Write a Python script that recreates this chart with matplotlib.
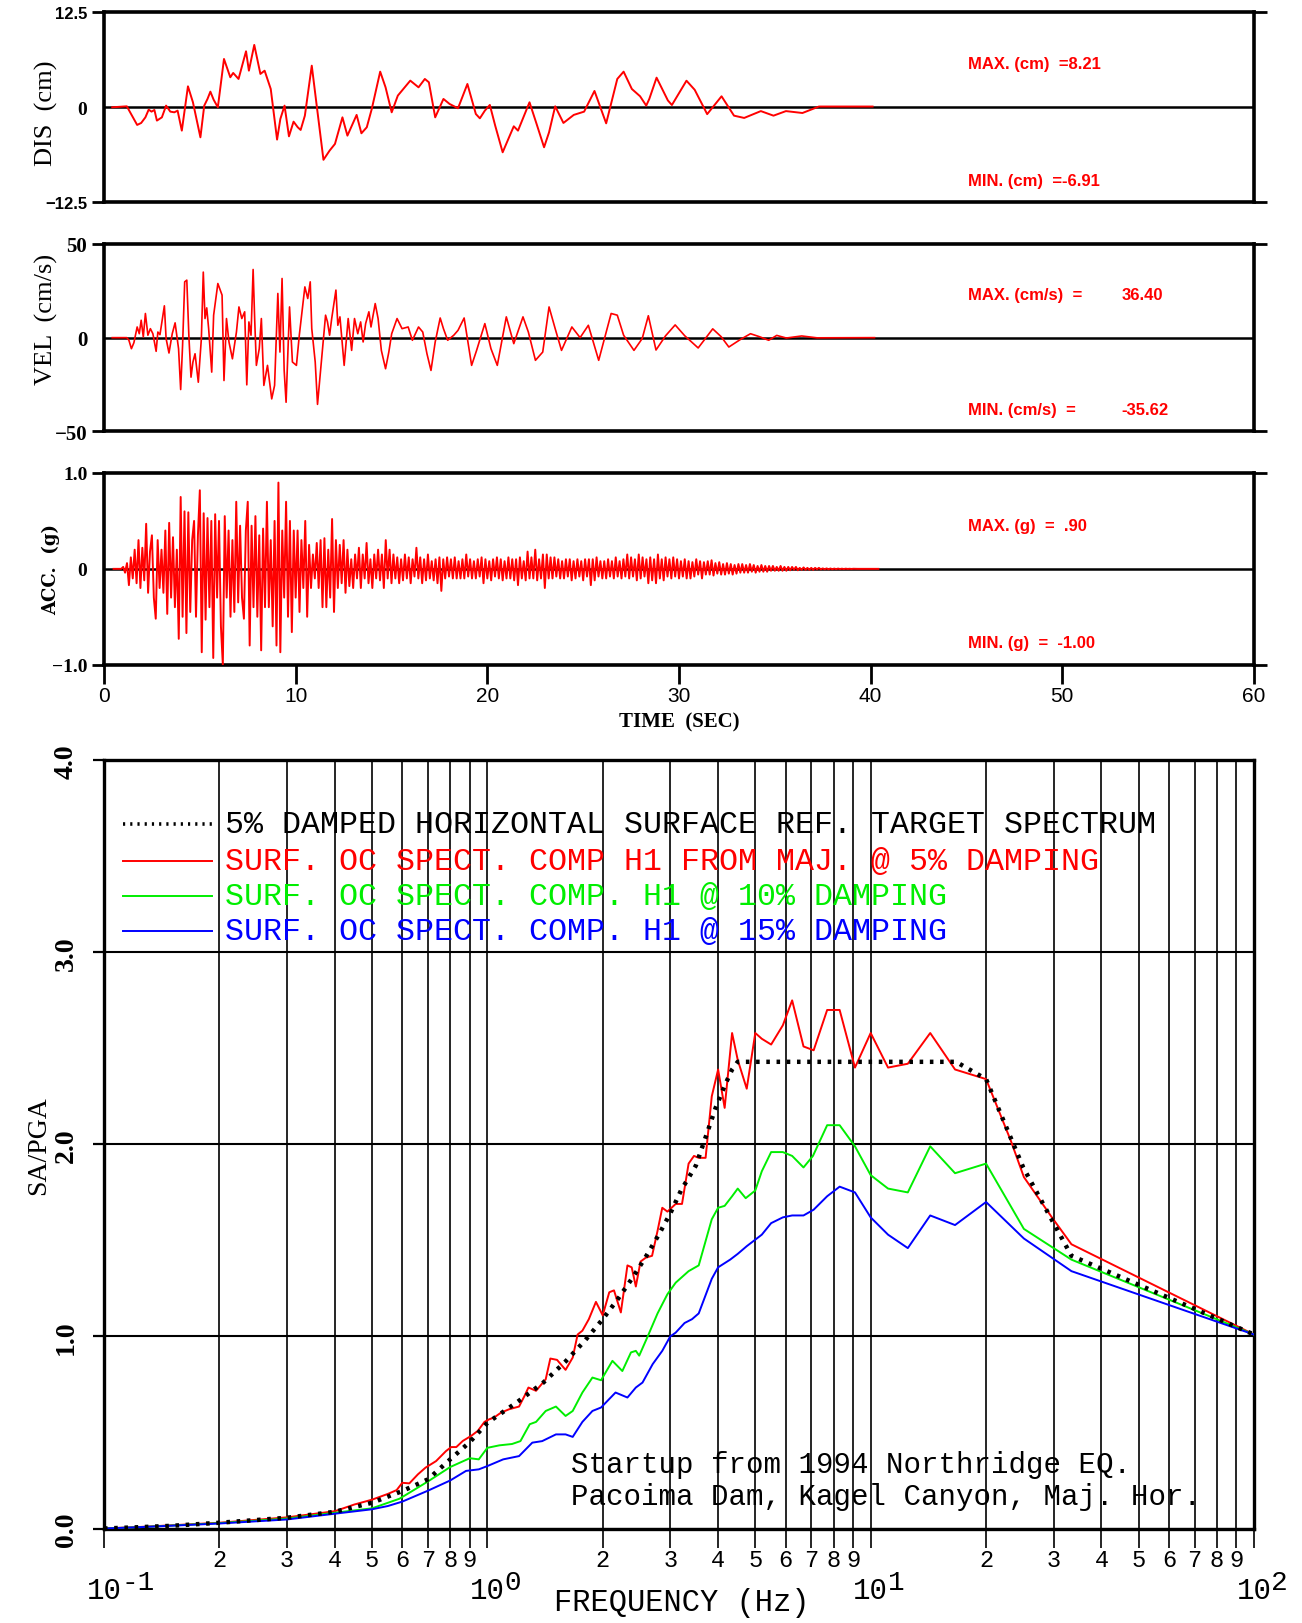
import numpy as np
import matplotlib
matplotlib.use('Agg')
import matplotlib.pyplot as plt
import matplotlib.transforms as mtransforms

SERIF = ['Liberation Serif', 'DejaVu Serif']
WIDE_SERIF = ['DejaVu Serif']
MONO = ['Liberation Mono', 'DejaVu Sans Mono']
NARROW = ['Liberation Sans Narrow', 'Liberation Sans', 'DejaVu Sans']
SANS = ['Liberation Sans', 'DejaVu Sans']

# ---------------- time histories ----------------
dis_t = [0.43, 1.19, 1.73, 1.94, 2.16, 2.33, 2.48, 2.63, 2.76, 3.02, 3.24, 3.46, 3.67, 3.84,
         4.06, 4.38, 4.64, 5.03, 5.23, 5.40, 5.55, 5.72, 5.94, 6.26, 6.44, 6.59, 6.74, 7.02,
         7.41, 7.56, 7.84, 8.16, 8.38, 8.70, 9.03, 9.20, 9.42, 9.65, 9.89, 10.11, 10.26, 10.48,
         10.84, 11.12, 11.45, 11.77, 12.05, 12.27, 12.44, 12.70, 13.18, 13.43, 13.71, 13.97,
         14.41, 14.69, 15.01, 15.33, 15.98, 16.41, 16.74, 16.95, 17.28, 17.71, 18.03, 18.47,
         18.96, 19.40, 19.61, 19.87, 20.13, 20.41, 20.80, 21.17, 21.38, 21.60, 22.20, 22.57,
         22.96, 23.22, 23.54, 23.97, 24.51, 25.05, 25.59, 26.20, 26.78, 27.11, 27.54, 27.97,
         28.29, 28.45, 28.83, 29.42, 29.63, 30.39, 30.82, 31.47, 32.22, 32.87, 33.40, 34.27,
         34.93, 35.58, 36.44, 37.30, 40.10]
dis_cm = [0.0, 0.13, -2.32, -2.06, -1.32, -0.31, -0.57, -0.35, -1.75, -1.32, 0.22, -0.57, -0.66, -0.44,
          -3.07, 2.76, 0.66, -3.95, 0.22, 1.10, 2.06, 1.00, 0.0, 6.36, 5.04, 3.95, 4.52, 3.73,
          7.37, 4.82, 8.21, 4.39, 4.82, 2.41, -4.25, -1.54, 0.22, -3.82, -1.89, -2.63, -2.98, -1.10,
          5.48, -0.22, -6.91, -5.70, -4.82, -2.85, -1.32, -3.73, -1.00, -3.42, -2.63, -0.22,
          4.69, 2.63, -0.66, 1.54, 3.51, 2.63, 3.73, 3.29, -1.32, 1.10, 0.44, -0.13,
          3.07, -0.88, -1.45, -0.44, 0.31, -2.41, -5.92, -3.73, -2.50, -3.07, 0.66, -2.19,
          -5.26, -3.29, 0.13, -2.06, -1.00, -0.57, 2.15, -2.11, 3.73, 4.69, 2.41, 1.45,
          0.22, 1.10, 3.90, 0.90, 0.30, 3.50, 2.30, -0.90, 1.45, -1.10, -1.40, -0.50,
          -1.10, -0.50, -0.75, 0.10, 0.10]

vel_t = [0.43, 1.08, 1.19, 1.30, 1.43, 1.56, 1.73, 1.84, 1.94, 2.05, 2.16, 2.29, 2.42, 2.55, 2.72,
         2.81, 2.92, 3.15, 3.24, 3.39, 3.56, 3.71, 3.89, 4.00, 4.10, 4.21, 4.32, 4.43, 4.54, 4.64,
         4.75, 4.92, 5.08, 5.18, 5.27, 5.36, 5.46, 5.62, 5.72, 5.94, 6.16, 6.26, 6.39, 6.52, 6.70,
         6.91, 7.04, 7.19, 7.34, 7.45, 7.56, 7.67, 7.78, 7.86, 7.95, 8.10, 8.21, 8.34, 8.53, 8.75,
         8.90, 9.07, 9.18, 9.29, 9.40, 9.50, 9.68, 9.83, 10.04, 10.19, 10.48, 10.63, 10.76, 10.84,
         11.02, 11.14, 11.34, 11.56, 11.66, 11.77, 11.88, 12.10, 12.20, 12.31, 12.53, 12.74, 12.92,
         13.07, 13.24, 13.39, 13.52, 13.65, 13.82, 13.93, 14.15, 14.30, 14.47, 14.69, 14.86, 15.01,
         15.29, 15.55, 15.87, 16.09, 16.41, 16.63, 16.85, 17.06, 17.28, 17.54, 17.71, 17.93, 18.25,
         18.47, 18.79, 19.18, 19.44, 19.87, 20.19, 20.52, 20.99, 21.38, 21.86, 22.14, 22.51, 22.89,
         23.22, 23.54, 23.87, 24.41, 24.84, 25.27, 25.81, 26.46, 26.78, 27.11, 27.65, 28.08, 28.40,
         28.80, 29.30, 29.80, 30.30, 31.00, 31.76, 32.20, 32.60, 33.20, 33.73, 34.20, 34.68, 35.10,
         35.60, 36.40, 37.20, 40.20]
vel_cms = [0.0, 0.0, 0.0, -1.4, -5.9, -2.7, 5.7, 2.1, 9.3, 0.4, 12.9, 1.3, 4.8, 2.1, -7.3,
           3.0, 1.6, 17.0, -0.5, -8.2, 2.1, 7.9, -5.9, -27.7, -4.1, 29.8, 30.7, 0.4, -21.1, -13.0,
           -8.6, -23.8, -0.5, 35.0, 10.2, 15.9, 4.8, -18.4, 12.0, 28.9, 22.7, -22.9, 10.2, -2.3, -11.3,
           3.0, 16.4, 10.2, 13.8, -25.2, 8.4, 1.3, 36.4, 10.2, -14.8, -5.9, 10.2, -25.5, -14.8, -32.7,
           -25.5, 23.6, -7.7, 31.6, -17.5, -34.5, 16.4, -13.0, -14.8, 1.3, 27.1, 20.9, 29.8, 4.8,
           -13.0, -35.62, -13.0, 12.0, 8.4, 1.3, 10.2, 25.4, 6.6, 11.1, -14.8, 10.2, -6.8,
           10.2, 2.1, 8.4, -2.3, 7.5, 13.8, 5.7, 18.2, 10.2, -6.8, -16.6, -7.7, 2.1,
           10.2, 4.8, 5.7, -1.4, 5.7, 3.0, -8.6, -17.5, -2.3, 10.5, 4.8, -1.4, 1.3,
           3.9, 10.5, -14.8, -6.8, 7.5, -5.9, -14.8, 11.1, -3.2, 11.1, 3.0, -12.1, -7.7,
           16.4, 4.8, -6.8, 5.7, 0.0, 6.6, -12.1, 12.9, 12.0, 1.3, -6.8, -0.5, 11.7,
           -6.6, 1.0, 6.8, 1.0, -5.5, 4.7, 0.5, -5.0, -1.0, 2.1, 0.5, -1.4, 1.2,
           -0.2, 0.9, -0.1, 0.0]

# acceleration peaks, one row per second, sampled every 0.1 s from 0.5 s
acc_start, acc_step = 0.5, 0.1
acc_g = [
    0, 0, 0, 0, 0, 0.02, -0.04, 0.06, -0.17, 0.12,
    -0.10, 0.20, -0.15, 0.30, -0.20, 0.22, -0.12, 0.47, -0.25, 0.18,
    0.35, -0.30, -0.52, 0.30, -0.20, 0.20, -0.25, 0.40, -0.47, 0.48,
    -0.30, 0.33, -0.40, 0.20, -0.73, 0.75, -0.50, 0.60, -0.67, 0.59,
    -0.45, 0.30, 0.50, -0.50, 0.35, 0.82, -0.87, 0.58, -0.53, 0.53,
    -0.40, 0.50, -0.93, 0.57, -0.30, 0.50, -0.60, -1.00, 0.55, -0.30,
    0.40, -0.50, 0.30, -0.45, 0.70, -0.35, 0.45, -0.30, -0.52, 0.40,
    0.70, -0.80, 0.45, -0.40, 0.55, -0.50, 0.35, -0.85, 0.42, -0.40,
    0.70, -0.40, 0.30, -0.60, 0.50, -0.80, 0.90, -0.87, 0.40, -0.30,
    0.70, -0.50, 0.50, -0.66, 0.40, -0.30, 0.40, -0.45, 0.30, -0.20,
    0.50, -0.50, 0.25, -0.20, 0.15, -0.10, 0.27, -0.20, 0.30, -0.40,
    0.32, -0.40, 0.20, -0.30, 0.52, -0.45, 0.30, -0.20, 0.25, -0.15,
    0.30, -0.25, 0.20, -0.18, 0.10, -0.20, 0.15, -0.10, 0.22, -0.20,
    0.15, -0.10, 0.27, -0.15, 0.10, -0.20, 0.15, -0.10, 0.20, -0.12,
    0.15, -0.20, 0.30, -0.10, 0.20, -0.15, 0.15, -0.10, 0.12, -0.15,
    0.10, -0.12, 0.15, -0.10, 0.12, -0.15, 0.10, -0.08, 0.22, -0.10,
    0.12, -0.15, 0.10, -0.12, 0.15, -0.10, 0.08, -0.12, 0.10, -0.15,
    0.12, -0.23, 0.10, -0.10, 0.12, -0.08, 0.10, -0.10, 0.12, -0.10,
    0.08, -0.10, 0.10, -0.10, 0.15, -0.08, 0.10, -0.10, 0.08, -0.10,
    0.10, -0.08, 0.12, -0.15, 0.10, -0.10, 0.08, -0.12, 0.10, -0.08,
    0.12, -0.10, 0.10, -0.12, 0.08, -0.10, 0.12, -0.10, 0.10, -0.12,
    0.10, -0.17, 0.12, -0.10, 0.08, -0.12, 0.18, -0.10, 0.12, -0.10,
    0.20, -0.12, 0.10, -0.10, 0.15, -0.20, 0.15, -0.10, 0.12, -0.10,
    0.12, -0.08, 0.10, -0.10, 0.08, -0.10, 0.10, -0.08, 0.10, -0.12,
    0.08, -0.10, 0.10, -0.08, 0.08, -0.12, 0.10, -0.08, 0.10, -0.17,
    0.10, -0.12, 0.12, -0.08, 0.08, -0.10, 0.08, -0.10, 0.10, -0.08,
    0.08, -0.10, 0.12, -0.08, 0.08, -0.10, 0.10, -0.08, 0.15, -0.10,
    0.12, -0.08, 0.10, -0.12, 0.15, -0.10, 0.12, -0.08, 0.10, -0.15,
    0.12, -0.12, 0.10, -0.15, 0.15, -0.10, 0.10, -0.12, 0.12, -0.08,
    0.10, -0.10, 0.12, -0.08, 0.10, -0.10, 0.08, -0.08, 0.10, -0.10,
    0.08, -0.10, 0.07, -0.08, 0.10, -0.06, 0.08, -0.10, 0.07, -0.06,
    0.08, -0.06, 0.09, -0.07, 0.06, -0.05, 0.07, -0.06, 0.05, -0.06,
    0.06, -0.05, 0.05, -0.06, 0.04, -0.05, 0.05, -0.04, 0.05, -0.04,
    0.04, -0.04, 0.05, -0.03, 0.04, -0.04, 0.03, -0.03, 0.04, -0.03,
    0.03, -0.03, 0.03, -0.02, 0.03, -0.02, 0.02, -0.02, 0.03, -0.02,
    0.02, -0.02, 0.02, -0.015, 0.02, -0.01, 0.02, -0.015, 0.01, -0.01,
    0.015, -0.01, 0.01, -0.01, 0.01, -0.01, 0.01, -0.005, 0.01, -0.005,
    0.005, -0.005, 0.005, -0.005, 0.004, -0.004, 0.003, -0.003, 0.003, -0.002,
    0.002, -0.002, 0.002, -0.001, 0.001, -0.001, 0.001, 0, 0, 0,
    0, 0, 0, 0, 0, 0, 0, 0, 0, 0,
]
acc_t = acc_start + acc_step * np.arange(len(acc_g))

dis_stats = ('MAX. (cm)  =8.21', 'MIN. (cm)  =-6.91', None, None)
vel_stats = ('MAX. (cm/s)  =', 'MIN. (cm/s)  =', '36.40', '-35.62')
acc_stats = ('MAX. (g)  =  .90', 'MIN. (g)  =  -1.00', None, None)

# ---------------- response spectra ----------------
target_f = [0.1, 0.124, 0.15, 0.2, 0.3, 0.4, 0.5, 0.6, 0.7, 0.8, 0.9, 1.0, 1.2, 1.4, 1.6, 1.8,
            2.0, 2.2, 2.4, 2.6, 2.8, 3.0, 3.2, 3.5, 3.7, 3.94, 4.17, 4.35, 4.5, 16.7, 20, 25,
            33.4, 100]
target_sa = [0.0, 0.007, 0.014, 0.03, 0.056, 0.087, 0.134, 0.195, 0.256, 0.36, 0.45, 0.55, 0.66,
             0.76, 0.87, 0.98, 1.09, 1.2, 1.31, 1.42, 1.53, 1.64, 1.76, 1.89, 2.03, 2.19, 2.31,
             2.39, 2.43, 2.43, 2.34, 1.88, 1.42, 1.01]

h1_5_f = [0.1, 0.124, 0.2, 0.3, 0.4, 0.45, 0.5, 0.55, 0.58, 0.6, 0.626, 0.659, 0.69, 0.735, 0.78,
          0.805, 0.83, 0.863, 0.907, 0.944, 0.983, 1.012, 1.04, 1.085, 1.14, 1.21, 1.25, 1.28,
          1.34, 1.42, 1.46, 1.52, 1.6, 1.67, 1.72, 1.77, 1.84, 1.92, 2.0, 2.08, 2.14, 2.23, 2.32,
          2.38, 2.44, 2.51, 2.59, 2.69, 2.78, 2.86, 2.95, 3.1, 3.22, 3.35, 3.46, 3.56, 3.71, 3.85,
          4.0, 4.16, 4.35, 4.5, 4.75, 5.0, 5.2, 5.5, 5.9, 6.24, 6.68, 7.1, 7.7, 8.3, 9.1, 10.0,
          11.1, 12.5, 14.3, 16.6, 20, 23.2, 25.1, 29.7, 33.4, 100]
h1_5_sa = [0.0, 0.008, 0.03, 0.058, 0.09, 0.125, 0.15, 0.18, 0.2, 0.238, 0.235, 0.282, 0.317, 0.351,
           0.403, 0.424, 0.424, 0.456, 0.482, 0.508, 0.555, 0.569, 0.577, 0.603, 0.621, 0.635, 0.69,
           0.734, 0.717, 0.777, 0.885, 0.878, 0.826, 0.89, 1.01, 1.03, 1.09, 1.18, 1.11, 1.23, 1.24,
           1.125, 1.37, 1.36, 1.26, 1.39, 1.41, 1.42, 1.55, 1.67, 1.65, 1.69, 1.69, 1.90, 1.94, 1.93,
           1.93, 2.25, 2.39, 2.19, 2.58, 2.44, 2.29, 2.58, 2.55, 2.52, 2.62, 2.75, 2.51, 2.49, 2.70,
           2.70, 2.40, 2.58, 2.40, 2.42, 2.58, 2.39, 2.34, 2.02, 1.83, 1.62, 1.48, 1.01]

h1_10_f = [0.1, 0.124, 0.2, 0.3, 0.4, 0.5, 0.59, 0.7, 0.8, 0.9, 0.95, 1.0, 1.075, 1.16, 1.22, 1.29,
           1.34, 1.42, 1.51, 1.6, 1.67, 1.77, 1.88, 1.98, 2.12, 2.25, 2.37, 2.44, 2.49, 2.62, 2.78,
           2.95, 3.1, 3.35, 3.56, 3.85, 4.0, 4.16, 4.35, 4.5, 4.72, 5.0, 5.2, 5.5, 5.9, 6.24, 6.68,
           7.07, 7.7, 8.3, 9.1, 10.0, 11.1, 12.5, 14.3, 16.6, 20, 25.1, 33.4, 100]
h1_10_sa = [0.0, 0.007, 0.028, 0.052, 0.082, 0.105, 0.155, 0.245, 0.32, 0.366, 0.36, 0.42, 0.433,
            0.44, 0.455, 0.543, 0.555, 0.612, 0.635, 0.586, 0.612, 0.708, 0.786, 0.772, 0.873, 0.82,
            0.917, 0.925, 0.9, 1.0, 1.12, 1.22, 1.28, 1.34, 1.37, 1.61, 1.67, 1.68, 1.73, 1.77, 1.72,
            1.76, 1.86, 1.96, 1.96, 1.94, 1.88, 1.94, 2.10, 2.10, 1.99, 1.84, 1.77, 1.75, 1.99, 1.85,
            1.90, 1.56, 1.40, 1.01]

h1_15_f = [0.1, 0.124, 0.2, 0.3, 0.4, 0.5, 0.55, 0.6, 0.7, 0.8, 0.88, 0.95, 1.0, 1.1, 1.21, 1.31,
           1.39, 1.51, 1.6, 1.67, 1.77, 1.88, 1.98, 2.16, 2.32, 2.44, 2.54, 2.7, 2.86, 3.0, 3.1,
           3.27, 3.42, 3.56, 3.85, 4.0, 4.3, 4.5, 4.75, 5.2, 5.5, 5.9, 6.24, 6.68, 7.1, 7.7, 8.3,
           9.1, 10.0, 11.1, 12.5, 14.3, 16.6, 20, 25.1, 33.4, 100]
h1_15_sa = [0.0, 0.007, 0.026, 0.047, 0.077, 0.1, 0.117, 0.14, 0.197, 0.25, 0.3, 0.308, 0.325, 0.36,
            0.377, 0.447, 0.455, 0.49, 0.49, 0.477, 0.555, 0.612, 0.63, 0.708, 0.682, 0.734, 0.76,
            0.856, 0.925, 1.0, 1.02, 1.07, 1.09, 1.12, 1.30, 1.36, 1.40, 1.43, 1.47, 1.53, 1.59,
            1.62, 1.63, 1.63, 1.66, 1.73, 1.78, 1.75, 1.62, 1.53, 1.46, 1.63, 1.58, 1.70, 1.51,
            1.34, 1.01]

legend_labels = ['5% DAMPED HORIZONTAL SURFACE REF. TARGET SPECTRUM',
                 'SURF. OC SPECT. COMP H1 FROM MAJ. @ 5% DAMPING',
                 'SURF. OC SPECT. COMP. H1 @ 10% DAMPING',
                 'SURF. OC SPECT. COMP. H1 @ 15% DAMPING']
note_lines = ['Startup from 1994 Northridge EQ.',
              'Pacoima Dam, Kagel Canyon, Maj. Hor.']

# ---------------- figure ----------------
W_PX, H_PX = 1302, 1624
fig = plt.figure(figsize=(W_PX / 100, H_PX / 100), dpi=100)
LEFT, RIGHT = 104, 1254


def box(top, bottom):
    return [LEFT / W_PX, 1 - bottom / H_PX, (RIGHT - LEFT) / W_PX, (bottom - top) / H_PX]


ax_d = fig.add_axes(box(13.3, 203.3))
ax_v = fig.add_axes(box(245, 432.3))
ax_a = fig.add_axes(box(474, 665.7))
ax_s = fig.add_axes(box(761.3, 1529.5))


def time_panel(ax, t, y, lim, ticklabels, sizes, fam, lw):
    ax.plot(t, y, color='red', lw=lw, zorder=3)
    ax.set_xlim(0, 60)
    ax.set_ylim(-lim, lim)
    ax.axhline(0, color='black', lw=1.8, zorder=2)
    for s in ax.spines.values():
        s.set_linewidth(2.6)
    ax.set_yticks([-lim, 0, lim])
    ax.set_yticklabels(ticklabels)
    ax.tick_params(axis='y', direction='out', length=9, width=2, left=True, right=True, pad=3)
    ticks = ax.yaxis.get_major_ticks()
    ticks[1].tick1line.set_visible(False)
    ticks[1].tick2line.set_visible(False)
    for lab, fs, fm in zip(ax.get_yticklabels(), sizes, fam):
        lab.set_fontsize(fs)
        lab.set_fontweight('bold')
        lab.set_family(fm)
    ax.set_xticks(range(0, 61, 10))


def stats_text(ax, stats):
    kw = dict(color='red', fontsize=12, fontweight='bold', family=NARROW,
              transform=ax.transAxes, va='center', ha='left')
    ax.text(0.751, 0.728, stats[0], **kw)
    ax.text(0.751, 0.117, stats[1], **kw)
    if stats[2]:
        ax.text(0.885, 0.728, stats[2], **kw)
        ax.text(0.885, 0.117, stats[3], **kw)


time_panel(ax_d, dis_t, dis_cm, 12.5, ['\u221212.5', '0', '12.5'], [12, 14, 12],
           [SANS, SERIF, SANS], 1.4)
time_panel(ax_v, vel_t, vel_cms, 50, ['\u221250', '0', '50'], [15, 15, 15],
           [SERIF, SERIF, SERIF], 1.2)
time_panel(ax_a, acc_t, acc_g, 1.0, ['\u22121.0', '0', '1.0'], [14, 14, 14],
           [SERIF, SERIF, SERIF], 1.4)
for ax in (ax_d, ax_v):
    ax.tick_params(axis='x', bottom=False, labelbottom=False)
ax_a.tick_params(axis='x', direction='out', length=14, width=2, pad=1, labelsize=15)
for lab in ax_a.get_xticklabels():
    lab.set_family(SANS)

stats_text(ax_d, dis_stats)
stats_text(ax_v, vel_stats)
stats_text(ax_a, acc_stats)

ax_d.text(-0.050, 0.475, 'DIS  (cm)', transform=ax_d.transAxes, rotation=90,
          ha='center', va='center', fontsize=19, family=SERIF)
ax_v.text(-0.050, 0.60, 'VEL  (cm/s)', transform=ax_v.transAxes, rotation=90,
          ha='center', va='center', fontsize=19, family=SERIF)
ax_a.text(-0.046, 0.50, 'ACC.  (g)', transform=ax_a.transAxes, rotation=90,
          ha='center', va='center', fontsize=13, fontweight='bold', family=WIDE_SERIF)
ax_a.text(0.5, -0.294, 'TIME  (SEC)', transform=ax_a.transAxes, ha='center', va='center',
          fontsize=15, fontweight='bold', family=SERIF)

# ---------------- spectrum panel ----------------
ax = ax_s
ax.set_xscale('log')
ax.set_xlim(0.1, 100)
ax.set_ylim(0, 4)
ax.plot(h1_5_f, h1_5_sa, color='red', lw=1.4, zorder=3)
ax.plot(h1_10_f, h1_10_sa, color='#00ee00', lw=1.4, zorder=3)
ax.plot(h1_15_f, h1_15_sa, color='blue', lw=1.4, zorder=3)
ax.plot(target_f, target_sa, color='black', lw=3.2, ls=(0, (0.8, 1.5)), zorder=4)

for s in ax.spines.values():
    s.set_linewidth(2.4)
ax.set_yticks([0, 1, 2, 3, 4])
ax.set_yticklabels([])
ax.tick_params(axis='y', direction='out', length=8, width=1.6)
ax.grid(axis='y', which='major', color='black', lw=1.5)
ax.grid(axis='x', which='both', color='black', lw=1.2)
ax.tick_params(axis='x', which='both', direction='out', length=14, width=1.2,
               labelbottom=False)

blend = mtransforms.blended_transform_factory(ax.transAxes, ax.transData)
for v in range(5):
    ax.text(-0.033, v, '%d.0' % v, transform=blend, rotation=90, ha='center', va='center',
            fontsize=20, fontweight='bold', family=SERIF)
ax.text(-0.0565, 0.5, 'SA/PGA', transform=ax.transAxes, rotation=90, ha='center',
        va='center', fontsize=20, family=SERIF)

xblend = mtransforms.blended_transform_factory(ax.transData, ax.transAxes)
for dec in (0.1, 1, 10):
    for k in range(2, 10):
        ax.text(dec * k, -0.041, str(k), transform=xblend, ha='center', va='center',
                fontsize=17, family=MONO)
sup = mtransforms.offset_copy(xblend, fig=fig, x=17, y=0, units='dots')
for dec, exp in zip([0.1, 1, 10, 100], ['-1', '0', '1', '2']):
    ax.text(dec, -0.080, '10', transform=xblend, ha='center', va='center',
            fontsize=21, family=MONO)
    ax.text(dec, -0.069, exp, transform=sup, ha='left', va='center',
            fontsize=20, family=MONO)
ax.text(0.502, -0.0957, 'FREQUENCY (Hz)', transform=ax.transAxes, ha='center',
        va='center', fontsize=22, family=MONO)

# legend drawn by hand
leg_colors = ['black', 'red', '#00ee00', 'blue']
leg_y = [0.9167, 0.8691, 0.8236, 0.7780]
for lab, col, y in zip(legend_labels, leg_colors, leg_y):
    if col == 'black':
        ax.plot([0.0165, 0.094], [y, y], transform=ax.transAxes, color=col, lw=2.6,
                ls=(0, (0.6, 1.4)), clip_on=False)
    else:
        ax.plot([0.0165, 0.094], [y, y], transform=ax.transAxes, color=col, lw=1.4,
                clip_on=False)
    ax.text(0.105, y, lab, transform=ax.transAxes, ha='left', va='center',
            fontsize=22.8, color=col, family=MONO)

ax.text(0.4064, 0.084, note_lines[0], transform=ax.transAxes, ha='left', va='center',
        fontsize=21, family=MONO)
ax.text(0.4064, 0.0427, note_lines[1], transform=ax.transAxes, ha='left', va='center',
        fontsize=21, family=MONO)

fig.savefig('out.png', dpi=100)
